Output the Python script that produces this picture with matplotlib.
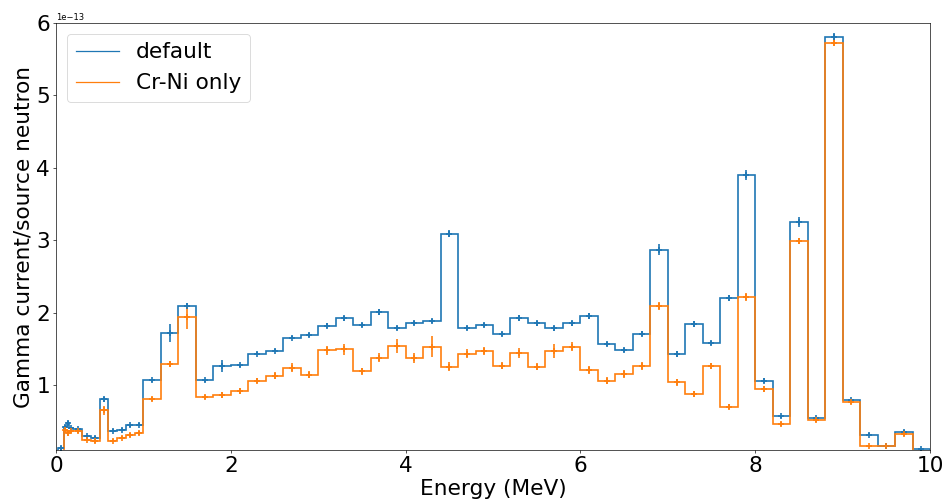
import matplotlib
matplotlib.use("Agg")
import matplotlib.pyplot as plt
import numpy as np

# bin edges in MeV (finer below 1 MeV)
edges = [0.0, 0.02, 0.09, 0.12, 0.15, 0.2, 0.3, 0.4, 0.5, 0.6, 0.7, 0.8, 0.9,
         1.0, 1.2, 1.4, 1.6, 1.8, 2.0, 2.2, 2.4, 2.6, 2.8, 3.0, 3.2, 3.4, 3.6,
         3.8, 4.0, 4.2, 4.4, 4.6, 4.8, 5.0, 5.2, 5.4, 5.6, 5.8, 6.0, 6.2, 6.4,
         6.6, 6.8, 7.0, 7.2, 7.4, 7.6, 7.8, 8.0, 8.2, 8.4, 8.6, 8.8, 9.0, 9.2,
         9.4, 9.6, 9.8, 10.0]

# gamma current per source neutron, units of 1e-13
default_vals = [0.0, 0.13, 0.42, 0.47, 0.40, 0.39, 0.29, 0.27, 0.80, 0.365, 0.38, 0.44, 0.45,
                1.067, 1.72, 2.09, 1.067, 1.26, 1.27, 1.43, 1.47, 1.65, 1.69,
                1.82, 1.92, 1.83, 2.01, 1.79, 1.86, 1.88, 3.09, 1.79, 1.83,
                1.70, 1.93, 1.85, 1.78, 1.85, 1.95, 1.57, 1.48, 1.71, 2.87,
                1.43, 1.84, 1.58, 2.20, 3.90, 1.06, 0.57, 3.25, 0.54, 5.81,
                0.79, 0.31, 0.16, 0.355, 0.11]
default_err = [0.0, 0.03, 0.03, 0.03, 0.02, 0.02, 0.02, 0.02, 0.04, 0.02, 0.02, 0.02, 0.02,
               0.02, 0.12, 0.04, 0.02, 0.08, 0.02, 0.02, 0.02, 0.02, 0.03,
               0.03, 0.03, 0.03, 0.04, 0.03, 0.03, 0.03, 0.05, 0.03, 0.03,
               0.03, 0.04, 0.04, 0.03, 0.03, 0.04, 0.03, 0.03, 0.03, 0.08,
               0.04, 0.04, 0.03, 0.04, 0.07, 0.03, 0.02, 0.07, 0.02, 0.05,
               0.02, 0.02, 0.01, 0.02, 0.01]

crni_vals = [0.0, 0.03, 0.38, 0.33, 0.37, 0.37, 0.24, 0.22, 0.65, 0.23, 0.27, 0.31, 0.34,
             0.81, 1.29, 1.94, 0.83, 0.86, 0.92, 1.06, 1.13, 1.24, 1.14,
             1.48, 1.49, 1.19, 1.375, 1.54, 1.375, 1.53, 1.25, 1.43, 1.47,
             1.265, 1.44, 1.25, 1.47, 1.53, 1.205, 1.06, 1.15, 1.26, 2.09,
             1.035, 0.88, 1.26, 0.70, 2.215, 0.94, 0.46, 2.99, 0.52, 5.73,
             0.76, 0.16, 0.16, 0.32, 0.05]
crni_err = [0.0, 0.02, 0.04, 0.03, 0.03, 0.03, 0.02, 0.02, 0.06, 0.02, 0.02, 0.03, 0.03,
            0.03, 0.04, 0.17, 0.03, 0.04, 0.04, 0.04, 0.05, 0.06, 0.05,
            0.06, 0.07, 0.05, 0.06, 0.10, 0.07, 0.15, 0.06, 0.06, 0.05,
            0.05, 0.07, 0.05, 0.10, 0.06, 0.06, 0.05, 0.05, 0.05, 0.06,
            0.05, 0.04, 0.04, 0.03, 0.05, 0.04, 0.03, 0.04, 0.03, 0.05,
            0.02, 0.01, 0.01, 0.02, 0.01]

scale = 1e-13
centers = 0.5 * (np.array(edges[:-1]) + np.array(edges[1:]))

plt.rcParams['font.size'] = 26
fig = plt.figure(figsize=(943 / 60, 499 / 60), dpi=60)
ax = fig.add_axes([0.0594, 0.098, 0.9268, 0.856])

ax.stairs(np.array(default_vals) * scale, edges, color='tab:blue', lw=2, label='default')
ax.stairs(np.array(crni_vals) * scale, edges, color='tab:orange', lw=2, label='Cr-Ni only')
ax.errorbar(centers, np.array(default_vals) * scale, yerr=np.array(default_err) * scale,
            fmt='+', color='tab:blue', elinewidth=2, mew=2, ms=7)
ax.errorbar(centers, np.array(crni_vals) * scale, yerr=np.array(crni_err) * scale,
            fmt='+', color='tab:orange', elinewidth=2, mew=2, ms=7)

ax.set_xlim(0, 10)
ax.set_ylim(0.1e-13, 6e-13)
ax.yaxis.get_offset_text().set_fontsize(10)
ax.set_xlabel('Energy (MeV)')
ax.set_ylabel('Gamma current/source neutron')
leg = ax.legend(loc='upper left')
for h in leg.get_patches() + leg.get_lines():
    h.set_linewidth(1.5)

fig.savefig('out.png', dpi=60)
